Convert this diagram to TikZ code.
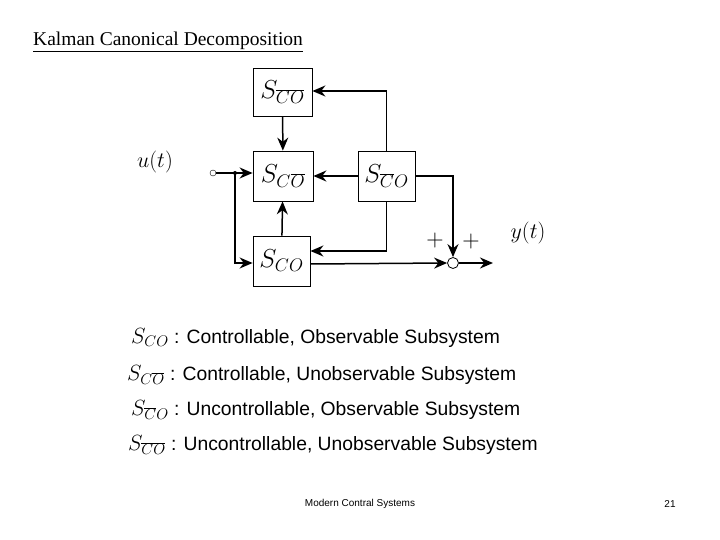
\documentclass[tikz,border=0pt]{standalone}
\usepackage{fix-cm}
\usepackage{fontspec}
\setmainfont{Liberation Serif}
\newfontfamily\arial{Liberation Sans}
\usetikzlibrary{arrows.meta}
\begin{document}
\begin{tikzpicture}[x=1pt,y=-1pt,
  blk/.style={draw,line width=0.8pt,inner sep=0pt},
  con/.style={line width=1.5pt,-{Stealth[length=13pt,width=11pt]}},
  ln/.style={line width=1.2pt},
  lg/.style={anchor=west,inner sep=0pt,font=\arial\fontsize{19.3}{22}\selectfont}]
\useasboundingbox (0,0) rectangle (720,540);
\newcommand\nb[1]{\overline{#1}}
\node[blk,minimum width=59pt,minimum height=48pt] (t) at (282.5,92) {\fontsize{26}{28}\selectfont$S_{\nb{C}\nb{O}}$};
\node[blk,minimum width=60pt,minimum height=50pt] (m) at (283,176) {\fontsize{26}{28}\selectfont$S_{C\nb{O}}$};
\node[blk,minimum width=57pt,minimum height=50pt] (r) at (386.5,176) {\fontsize{26}{28}\selectfont$S_{\nb{C}O}$};
\node[blk,minimum width=57pt,minimum height=50pt] (b) at (281.5,261) {\fontsize{26}{28}\selectfont$S_{CO}$};
\node[draw,circle,inner sep=0pt,minimum size=6pt] (in) at (213,173) {};
\node[draw,circle,inner sep=0pt,minimum size=11pt,line width=0.8pt] (sum) at (453,263) {};
\coordinate (j) at (235,173);
\fill (j) circle (2pt);
\coordinate (out) at (493,263);
\draw[ln] (in) -- (j);
\draw[con] (j) -- (m.west|-j);
\draw[con] (j) |- (b.west|-0,263);
\draw[con] (t) -- (m);
\draw[con] (b) -- (m);
\draw[con] (r.west) -- (m.east);
\draw[con] (r.north) |- (t.east|-0,91);
\draw[con] (r.south) |- (b.east|-0,251);
\draw[con] (r.east|-0,176) -| (sum.north);
\draw[con] (b.east|-0,264) -- (sum.west);
\draw[con] (sum.east) -- (out);
\node[font=\fontsize{22}{24}\selectfont] (u) at (155,162) {$u(t)$};
\node[font=\fontsize{22}{24}\selectfont] (y) at (528,233) {$y(t)$};
\node[font=\fontsize{24}{24}\selectfont] (p1) at (435,241) {$+$};
\node[font=\fontsize{24}{24}\selectfont] (p2) at (471,242) {$+$};
\node[anchor=west,inner sep=0pt,font=\fontsize{19.5}{21}\selectfont] (ttl) at (33,42) {\underline{Kalman Canonical Decomposition}};
\node[lg] (l1) at (131,338) {{\fontsize{22}{22}\selectfont$S_{CO}$} : Controllable, Observable Subsystem};
\node[lg] (l2) at (127,375) {{\fontsize{22}{22}\selectfont$S_{C\nb{O}}$} : Controllable, Unobservable Subsystem};
\node[lg] (l3) at (131,410) {{\fontsize{22}{22}\selectfont$S_{\nb{C}O}$} : Uncontrollable, Observable Subsystem};
\node[lg] (l4) at (128,445) {{\fontsize{22}{22}\selectfont$S_{\nb{C}\nb{O}}$} : Uncontrollable, Unobservable Subsystem};
\node[font=\arial\fontsize{10}{12}\selectfont] (f1) at (360,504) {Modern Contral Systems};
\node[font=\arial\fontsize{10}{12}\selectfont] (f2) at (670,504) {21};
\end{tikzpicture}
\end{document}
